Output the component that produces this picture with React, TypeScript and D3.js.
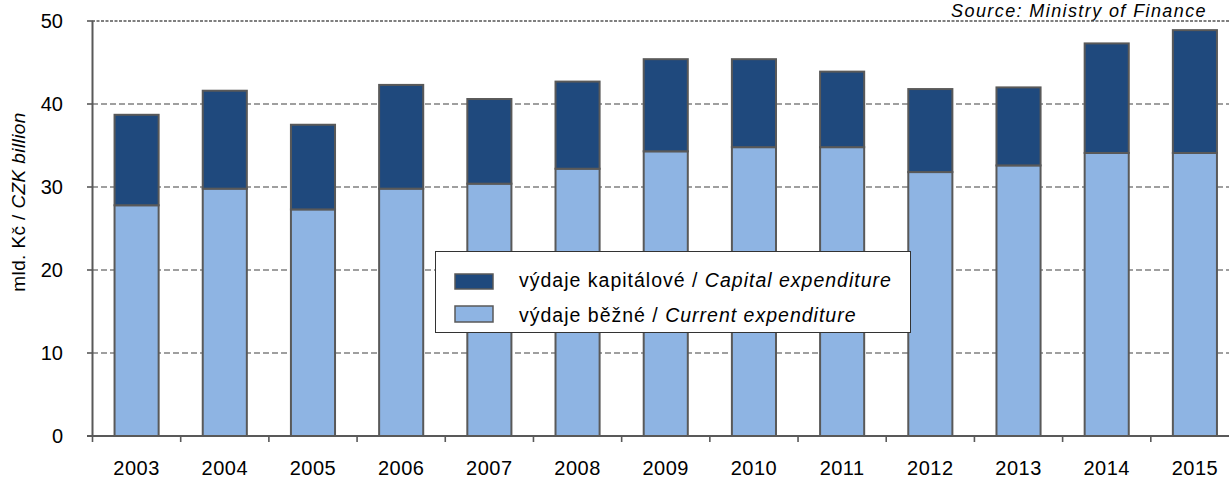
import * as d3 from "d3";

const YEARS = ["2003", "2004", "2005", "2006", "2007", "2008", "2009", "2010", "2011", "2012", "2013", "2014", "2015"];
const CURRENT = [27.8, 29.8, 27.3, 29.8, 30.4, 32.2, 34.3, 34.8, 34.8, 31.8, 32.6, 34.1, 34.1];
const CAPITAL = [10.9, 11.8, 10.2, 12.5, 10.2, 10.5, 11.1, 10.6, 9.1, 10.0, 9.4, 13.2, 14.8];
const Y_TICKS = [0, 10, 20, 30, 40, 50];

const W = 1229;
const H = 479;
const FONT = "'Liberation Sans', Arial, sans-serif";
const DARK = "#1f497d";
const LIGHT = "#8eb4e3";
const EDGE = "#595959";

const rows = YEARS.map((year, i) => ({ year, current: CURRENT[i], capital: CAPITAL[i] }));

export default function App() {
  const x = d3.scaleBand<string>()
    .domain(YEARS)
    .range([92.5, 1239])
    .paddingInner(0.5)
    .paddingOuter(0.25);
  const y = d3.scaleLinear().domain([0, 50]).range([436, 21]);

  const series = d3.stack<any>().keys(["current", "capital"])(rows);
  const fills: Record<string, string> = { current: LIGHT, capital: DARK };

  const step = x.step();
  const boundaries = YEARS.map((yr) => (x(yr) as number) - step * 0.25);

  return (
    <svg width={W} height={H} style={{ position: "absolute", left: 0, top: 0, background: "#fff" }}
      fontFamily={FONT}>
      {/* source */}
      <text x={1207} y={16.5} textAnchor="end" fontSize={18} fontStyle="italic" letterSpacing={1.4} fill="#000">
        Source: Ministry of Finance
      </text>

      {/* grid */}
      {Y_TICKS.filter((t) => t > 0 && t < 50).map((t) => (
        <line key={t} x1={92} x2={W} y1={y(t)} y2={y(t)} stroke="#808080" strokeWidth={1.6}
          strokeDasharray="6,3" />
      ))}
      <line x1={92} x2={W} y1={y(50)} y2={y(50)} stroke="#555" strokeWidth={1.6} strokeDasharray="3,1.5" />

      {/* bars */}
      {series.map((s) => (
        <g key={s.key}>
          {s.map((d: any, i: number) => (
            <rect key={i} x={x(YEARS[i])} y={y(d[1])} width={x.bandwidth()} height={y(d[0]) - y(d[1])}
              fill={fills[s.key]} stroke={EDGE} strokeWidth={2} />
          ))}
        </g>
      ))}

      {/* y axis */}
      <line x1={92.5} x2={92.5} y1={y(50)} y2={y(0)} stroke={EDGE} strokeWidth={2} />
      {Y_TICKS.map((t) => (
        <g key={t}>
          <line x1={87} x2={92.5} y1={y(t)} y2={y(t)} stroke={EDGE} strokeWidth={1.6} />
          <text x={63} y={y(t)} dy="0.36em" textAnchor="end" fontSize={20} fill="#000">{t}</text>
        </g>
      ))}

      {/* x axis */}
      <line x1={87} x2={W} y1={y(0)} y2={y(0)} stroke={EDGE} strokeWidth={2} />
      {boundaries.map((b, i) => (
        <line key={i} x1={b} x2={b} y1={y(0)} y2={y(0) + 6} stroke={EDGE} strokeWidth={1.6} />
      ))}
      {YEARS.map((yr) => (
        <text key={yr} x={(x(yr) as number) + x.bandwidth() / 2} y={475} textAnchor="middle"
          fontSize={20} letterSpacing={0.5} fill="#000">{yr}</text>
      ))}

      {/* y label */}
      <text transform="translate(25,202) rotate(-90)" textAnchor="middle" fontSize={19} letterSpacing={0.4}
        fill="#000">
        mld. Kč / <tspan fontStyle="italic">CZK billion</tspan>
      </text>

      {/* legend */}
      <rect x={435.5} y={251.5} width={475} height={81} fill="#fff" stroke="#333" strokeWidth={1} />
      <rect x={455} y={274} width={38} height={15} fill={DARK} stroke={EDGE} strokeWidth={1.5} />
      <rect x={455} y={306} width={38} height={16} fill={LIGHT} stroke={EDGE} strokeWidth={1.5} />
      <text x={519} y={287} fontSize={19.5} letterSpacing={1} fill="#000">
        výdaje kapitálové / <tspan fontStyle="italic">Capital expenditure</tspan>
      </text>
      <text x={519} y={322} fontSize={19.5} letterSpacing={1} fill="#000">
        výdaje běžné / <tspan fontStyle="italic">Current expenditure</tspan>
      </text>
    </svg>
  );
}
